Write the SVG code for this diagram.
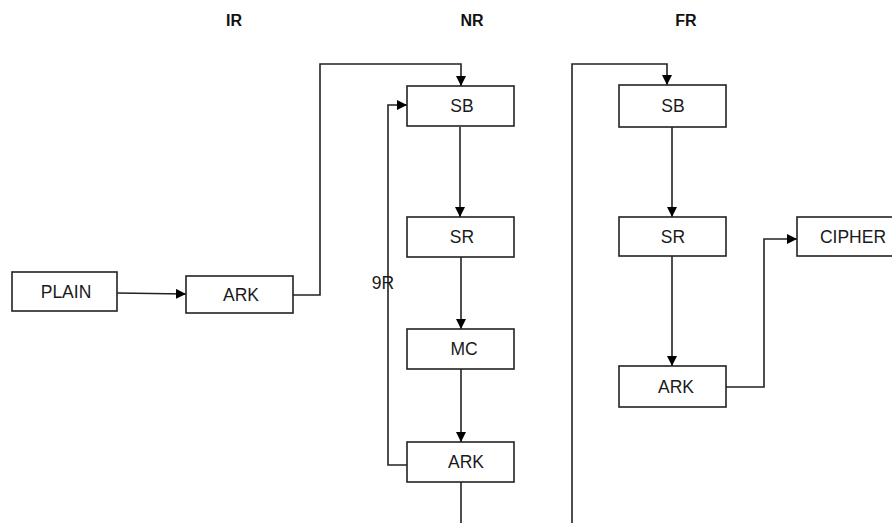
<svg xmlns="http://www.w3.org/2000/svg" width="892" height="523" viewBox="0 0 892 523">
<defs>
<marker id="ah" viewBox="0 0 10 10" refX="10" refY="5" markerWidth="10" markerHeight="10" markerUnits="userSpaceOnUse" orient="auto">
<path d="M0,0 L10,5 L0,10 z" fill="#000"/>
</marker>
<style>
.box{fill:#fff;stroke:#222;stroke-width:1.6}
.lbl{font-family:"Liberation Sans",Arial,sans-serif;font-size:17.5px;fill:#1a1a1a;text-anchor:middle}
.hdr{font-family:"Liberation Sans",Arial,sans-serif;font-size:16px;font-weight:bold;fill:#111;text-anchor:middle}
.ln{fill:none;stroke:#222;stroke-width:1.6}
.arr{fill:none;stroke:#222;stroke-width:1.6;marker-end:url(#ah)}
</style>
</defs>
<rect width="892" height="523" fill="#fff"/>
<g id="headers">
<text class="hdr" x="234" y="26">IR</text>
<text class="hdr" x="472" y="26">NR</text>
<text class="hdr" x="686" y="26">FR</text>
</g>
<g id="connectors">
<path class="arr" d="M117,293 L186,294"/>
<path class="arr" d="M293,295 L320,295 L320,64 L461,64 L461,86"/>
<path class="arr" d="M407,465 L388,465 L388,105 L407,105"/>
<path class="arr" d="M460,127 L460,217"/>
<path class="arr" d="M461,257 L461,329"/>
<path class="arr" d="M461,369 L461,442"/>
<path class="ln" d="M461,482 L461,523"/>
<path class="arr" d="M572,523 L572,64 L667,64 L667,85"/>
<path class="arr" d="M672,127 L672,217"/>
<path class="arr" d="M672,256 L672,366"/>
<path class="arr" d="M726,387 L764,387 L764,239 L797,239"/>
<text class="lbl" x="383" y="289">9R</text>
</g>
<g id="plain"><rect class="box" x="12" y="272" width="105" height="39"/><text class="lbl" x="66" y="298">PLAIN</text></g>
<g id="ark-ir"><rect class="box" x="186" y="276" width="107" height="37"/><text class="lbl" x="241" y="301">ARK</text></g>
<g id="sb-nr"><rect class="box" x="407" y="86" width="107" height="40"/><text class="lbl" x="462" y="112">SB</text></g>
<g id="sr-nr"><rect class="box" x="407" y="217" width="107" height="40"/><text class="lbl" x="462" y="243">SR</text></g>
<g id="mc-nr"><rect class="box" x="407" y="329" width="107" height="40"/><text class="lbl" x="464" y="355">MC</text></g>
<g id="ark-nr"><rect class="box" x="407" y="442" width="107" height="40"/><text class="lbl" x="466" y="468">ARK</text></g>
<g id="sb-fr"><rect class="box" x="619" y="85" width="107" height="42"/><text class="lbl" x="673" y="112">SB</text></g>
<g id="sr-fr"><rect class="box" x="619" y="217" width="107" height="39"/><text class="lbl" x="673" y="243">SR</text></g>
<g id="ark-fr"><rect class="box" x="619" y="366" width="107" height="41"/><text class="lbl" x="676" y="393">ARK</text></g>
<g id="cipher"><rect class="box" x="797" y="217" width="100" height="39"/><text class="lbl" x="853" y="243">CIPHER</text></g>
</svg>
